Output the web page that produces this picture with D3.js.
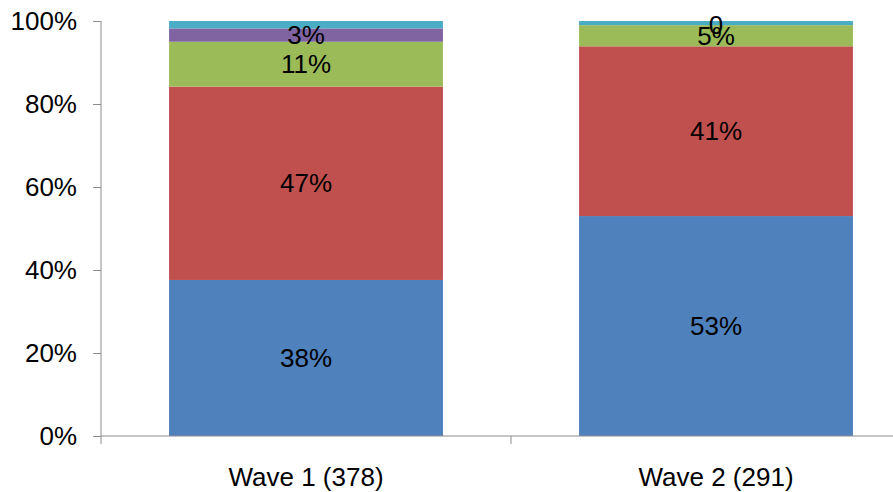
<!DOCTYPE html>
<html>
<head>
<meta charset="utf-8">
<script src="https://cdn.jsdelivr.net/npm/d3@7"></script>
<style>
  html, body { margin: 0; padding: 0; background: #fff; }
  svg { display: block; font-family: "Liberation Sans", Arial, sans-serif; }
</style>
</head>
<body>
<svg id="chart" width="893" height="492"></svg>
<script>
// Survey waves (sample size in brackets)
const categories = ["Wave 1 (378)", "Wave 2 (291)"];

// Share of respondents per answer group, bottom to top of each stack (%)
const seriesNames = ["s1", "s2", "s3", "s4", "s5"];
const s1 = [37.6, 53.0];
const s2 = [46.6, 40.9];
const s3 = [10.8, 5.1];
const s4 = [3.2, 0];
const s5 = [1.8, 1.0];
const seriesValues = [s1, s2, s3, s4, s5];
const seriesColors = ["#4F81BD", "#C0504D", "#9BBB59", "#8064A2", "#4BACC6"];
const seriesLabelled = [true, true, true, true, false];

const yTicks = [0, 20, 40, 60, 80, 100];

const svg = d3.select("#chart");

// Plot area (right edge runs past the visible frame)
const plotLeft = 101, plotRight = 921, plotTop = 21, plotBottom = 436;

const x = d3.scaleBand()
  .domain(categories)
  .range([plotLeft, plotRight])
  .paddingInner(0.332)
  .paddingOuter(0.166);

const y = d3.scaleLinear().domain([0, 100]).range([plotBottom, plotTop]);

// Build stacked rows
const rows = categories.map((c, i) => {
  const r = { cat: c, idx: i };
  seriesNames.forEach((s, k) => { r[s] = seriesValues[k][i]; });
  return r;
});
const stacked = d3.stack().keys(seriesNames)(rows);

// Bars
const layers = svg.append("g").selectAll("g")
  .data(stacked)
  .join("g")
  .attr("fill", (d, k) => seriesColors[k]);

layers.selectAll("rect")
  .data(d => d)
  .join("rect")
  .attr("x", d => x(d.data.cat))
  .attr("width", x.bandwidth())
  .attr("y", d => y(d[1]))
  .attr("height", d => y(d[0]) - y(d[1]));

// Axes
const axisColor = "#8c8c8c";
const yAxis = svg.append("g")
  .attr("transform", `translate(${plotLeft},0)`)
  .call(d3.axisLeft(y).tickValues(yTicks).tickSize(8).tickPadding(16)
    .tickFormat(d => d + "%"));
yAxis.select(".domain").attr("stroke", axisColor).attr("d", `M0,${plotTop}V${plotBottom}`);
yAxis.selectAll(".tick line").attr("stroke", axisColor);
yAxis.selectAll(".tick text")
  .attr("fill", "#000")
  .style("font-size", "26px");

// Category axis: baseline with boundary ticks between categories
const xAxis = svg.append("g").attr("transform", `translate(0,${plotBottom})`);
xAxis.append("line")
  .attr("x1", plotLeft).attr("x2", 893)
  .attr("y1", 0).attr("y2", 0)
  .attr("stroke", axisColor);
const step = x.step();
const boundaries = d3.range(categories.length + 1).map(i => plotLeft + i * step);
xAxis.selectAll("line.bnd")
  .data(boundaries)
  .join("line")
  .attr("class", "bnd")
  .attr("x1", d => d).attr("x2", d => d)
  .attr("y1", 0).attr("y2", 8)
  .attr("stroke", axisColor);
xAxis.selectAll("text")
  .data(categories)
  .join("text")
  .attr("x", d => x(d) + x.bandwidth() / 2)
  .attr("y", 50)
  .attr("text-anchor", "middle")
  .style("font-size", "26px")
  .attr("fill", "#000")
  .text(d => d);

// Segment value labels
const labelG = svg.append("g");
stacked.forEach((layer, k) => {
  if (!seriesLabelled[k]) return;
  labelG.selectAll(null)
    .data(layer)
    .join("text")
    .attr("x", d => x(d.data.cat) + x.bandwidth() / 2)
    .attr("y", d => y((d[0] + d[1]) / 2))
    .attr("dy", "0.35em")
    .attr("text-anchor", "middle")
    .style("font-size", "26px")
    .attr("fill", "#000")
    .text(d => {
      const v = seriesValues[k][d.data.idx];
      return v === 0 ? "0" : Math.round(v) + "%";
    });
});
</script>
</body>
</html>
